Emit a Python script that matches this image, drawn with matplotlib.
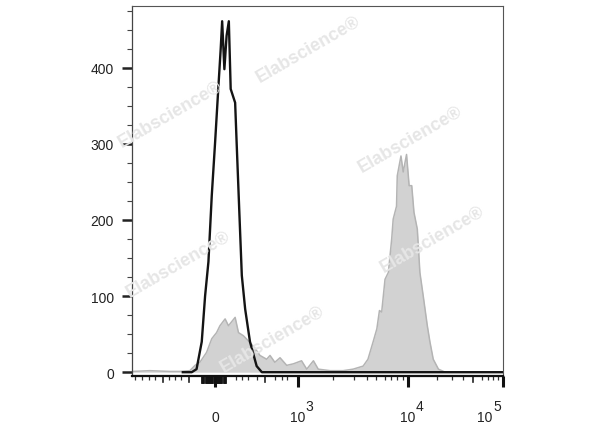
import numpy as np
import matplotlib.pyplot as plt
from matplotlib.ticker import MultipleLocator, FixedLocator
import matplotlib.transforms as mtransforms

plt.rcParams['font.family'] = ['Liberation Sans', 'DejaVu Sans']

### Histogram data, x in display channels (0-1000)

# unstained / control (black outline)
ctrl_x = [137, 161, 174, 188, 197, 206, 215, 224, 233, 239, 243, 249, 255, 261,
          266, 278, 282, 289, 296, 305, 318, 336, 350, 1000]
ctrl_y = [0, 0, 4, 40, 100, 145, 232, 302, 376, 424, 461, 398, 442, 461,
          372, 354, 302, 214, 127, 83, 40, 8, 0, 0]

# stained sample (grey filled)
stain_x = [0, 48, 102, 129, 156, 170, 183, 201, 215, 228, 237, 251, 260, 278,
           287, 300, 318, 332, 345, 363, 372, 385, 399, 417, 435, 457, 471, 489,
           502, 534, 569, 596, 623, 636, 650, 660, 667, 673, 682, 691, 700, 704,
           713, 715, 725, 731, 740, 747, 754, 760, 769, 776, 785, 796, 803, 812,
           826, 844, 1000]
stain_y = [1, 2, 1, 1, 2, 9, 13, 26, 44, 52, 61, 70, 61, 72,
           52, 48, 39, 31, 22, 17, 22, 13, 19, 9, 11, 15, 4, 15,
           4, 2, 2, 4, 8, 17, 40, 57, 81, 79, 122, 131, 175, 201,
           218, 258, 284, 263, 286, 245, 245, 210, 188, 131, 100, 61, 40, 17,
           4, 0, 0]

# axis ticks (channel positions of the biexponential scale)
major_pos = [224, 447, 744, 1000]
major_base = ['0', '10', '10', '10']
major_exp = ['', '3', '4', '5']
label_shift = [0, 0, 0, -18]   # px, the last label sits left of its tick
mid_pos = [84, 154, 358, 919]
minor_pos = [8, 27, 46, 62, 100, 116, 132, 280, 297, 313, 337, 385, 404, 418,
             542, 598, 633, 658, 682, 698, 714, 730, 822, 862, 892, 943, 959, 973, 986]
zero_cluster = np.linspace(189, 253, 22)

fig = plt.figure(figsize=(6, 4.27), dpi=100)
ax = fig.add_axes([132/600, 1 - 377/427, 371/600, 370/427])

ax.fill_between(stain_x, 0, stain_y, color='#d2d2d2', lw=0)
ax.plot(stain_x, stain_y, color='#b4b4b4', lw=1.1)
ax.plot(ctrl_x, ctrl_y, color='#141414', lw=1.7)

ax.set_xlim(0, 1000)
ax.set_ylim(-5, 481)

# y axis
ax.yaxis.set_major_locator(MultipleLocator(100))
ax.yaxis.set_minor_locator(MultipleLocator(25))
ax.tick_params(axis='y', which='major', length=7, width=1.8, color='#222222',
               labelsize=10, pad=6, labelcolor='#222222')
ax.tick_params(axis='y', which='minor', length=3.5, width=0.8, color='#444444')

# x axis
ax.xaxis.set_major_locator(FixedLocator(major_pos))
ax.set_xticklabels([])
ax.xaxis.set_minor_locator(FixedLocator(minor_pos))
ax.tick_params(axis='x', which='major', length=8, width=2.2, color='#111111')
ax.tick_params(axis='x', which='minor', length=3, width=0.9, color='#333333')

xt = ax.get_xaxis_transform()
for p, b, e, sh in zip(major_pos, major_base, major_exp, label_shift):
    off = mtransforms.ScaledTranslation(sh/100, -0.447, fig.dpi_scale_trans)
    ax.text(p, 0, b, transform=xt + off, ha='center', va='baseline',
            fontsize=10, color='#222222', clip_on=False)
    if e:
        off2 = mtransforms.ScaledTranslation((sh + 8)/100, -0.345, fig.dpi_scale_trans)
        ax.text(p, 0, e, transform=xt + off2, ha='left', va='baseline',
                fontsize=10, color='#222222', clip_on=False)

# medium ticks and the dense cluster round zero
for p in mid_pos:
    ax.plot([p, p], [0, -0.016], transform=xt, clip_on=False, color='#222222', lw=1.2)
for p in zero_cluster:
    ax.plot([p, p], [0, -0.02], transform=xt, clip_on=False, color='#111111', lw=1.3)

for s in ['top', 'right']:
    ax.spines[s].set_color('#555555')
    ax.spines[s].set_linewidth(0.8)
ax.spines['left'].set_color('#444444')
ax.spines['left'].set_linewidth(0.9)
ax.spines['bottom'].set_color('#111111')
ax.spines['bottom'].set_linewidth(1.6)

# watermarks
marks = [(308, 50), (170, 115), (410, 140), (432, 240), (178, 265), (272, 340)]
for mx, my in marks:
    fig.text(mx/600, 1 - my/427, 'Elabscience\u00ae', rotation=30, ha='center', va='center',
             fontsize=13, fontweight='bold', color='#e6e6e6', zorder=5)

fig.savefig('out.png', dpi=100)
